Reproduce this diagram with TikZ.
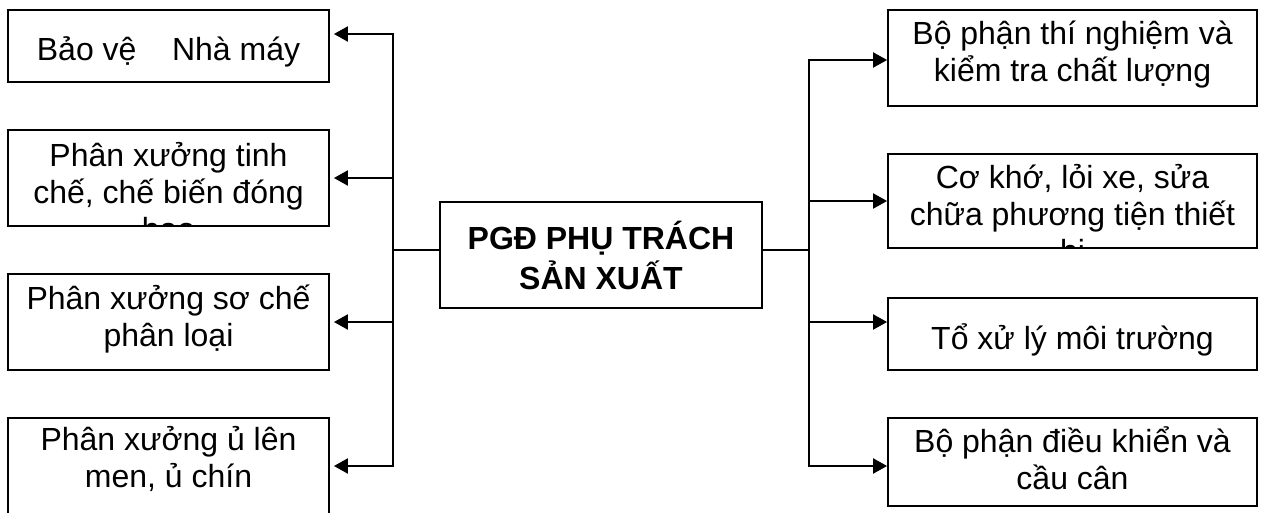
\documentclass[tikz,border=0pt]{standalone}
\usepackage{fontspec}
\setmainfont{Liberation Sans}
\usetikzlibrary{arrows.meta}

\begin{document}
\begin{tikzpicture}[x=0.5pt,y=-0.5pt,>={Triangle[length=7pt,width=7.5pt]},
  every node/.style={font=\fontsize{16}{18.6}\selectfont},
  box/.style={draw,line width=0.9pt,rectangle,inner sep=0pt,align=center},
  oneline/.style={text height=15pt,text depth=0pt},
  cut/.style 2 args={path picture={\node[anchor=north,inner sep=0pt,align=center] at ([yshift=#1]path picture bounding box.north) {#2};}},
  link/.style={line width=1pt}]
\useasboundingbox (0,0) rectangle (1262,513);
\clip (0,0) rectangle (1262,513);
% left column
\node[box,oneline,minimum width=160.5pt,minimum height=36pt] (guard) at (168.5,46) {Bảo vệ\ \ \ \ Nhà máy};
\node[box,minimum width=160.5pt,minimum height=48pt,cut={-5.5pt}{Phân xưởng tinh\\chế, chế biến đóng\\bao}] (refine) at (168.5,178) {};
\node[box,minimum width=160.5pt,minimum height=48pt,cut={2pt}{Phân xưởng sơ chế\\phân loại}] (sort) at (168.5,322) {};
\node[box,minimum width=160.5pt,minimum height=50pt,cut={5pt}{Phân xưởng ủ lên\\men, ủ chín}] (ferment) at (168.5,468) {};
% centre
\node[box,minimum width=161pt,minimum height=53pt,font=\fontsize{16}{20}\selectfont\bfseries] (pgd) at (601,255) {PGĐ PHỤ TRÁCH\\SẢN XUẤT};
% right column
\node[box,minimum width=184.5pt,minimum height=48pt,cut={2pt}{Bộ phận thí nghiệm và\\kiểm tra chất lượng}] (lab) at (1072.5,58) {};
\node[box,minimum width=184.5pt,minimum height=47pt,cut={-4.5pt}{Cơ khớ, lỏi xe, sửa\\chữa phương tiện thiết\\bi}] (repair) at (1072.5,201) {};
\node[box,oneline,minimum width=184.5pt,minimum height=36pt] (env) at (1072.5,334) {Tổ xử lý môi trường};
\node[box,minimum width=184.5pt,minimum height=44pt,cut={2.5pt}{Bộ phận điều khiển và\\cầu cân}] (ctrl) at (1072.5,462) {};
% bus lines
\coordinate (lbus) at (393,250);
\coordinate (rbus) at (809,250);
\draw[line width=0.75pt] (pgd.west |- lbus) -- (lbus);
\draw[line width=0.75pt] (pgd.east |- rbus) -- (rbus);
\draw[link,->,shorten >=2pt] (lbus) |- ([yshift=6pt]guard.east);
\draw[link,->,shorten >=2pt] (lbus) |- (refine.east);
\draw[link,->,shorten >=2pt] (lbus) |- (sort.east);
\draw[link,->,shorten >=2pt] (lbus) |- ([yshift=1pt]ferment.east);
\draw[link,->] (rbus) |- ([yshift=-1pt]lab.west);
\draw[link,->] (rbus) |- (repair.west);
\draw[link,->] (rbus) |- ([yshift=6pt]env.west);
\draw[link,->] (rbus) |- ([yshift=-2pt]ctrl.west);
\end{tikzpicture}
\end{document}
